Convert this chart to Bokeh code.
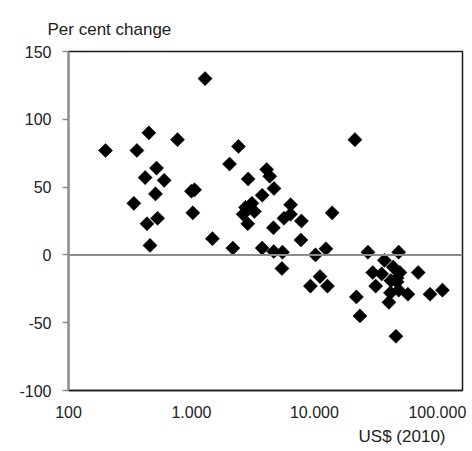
import math
from bokeh.plotting import figure
from bokeh.models import (FixedTicker, CustomJSTickFormatter, Span, Title,
                          ColumnDataSource, Range1d)
from bokeh.embed import file_html
from bokeh.resources import INLINE

# GDP per capita, US$ (2010)
gdp = [200, 360, 450, 770, 1290, 420, 520, 600, 510, 340, 435, 530, 460,
       1000, 1060, 1025, 1480, 2170, 2040, 2410, 2890, 2750, 3100, 2630, 3250, 2870,
       3760, 4090, 4330, 4690, 3760, 4640, 4670, 5500, 5440, 5650, 6400, 6390, 7840, 7770,
       10200, 9280, 11100, 12400, 12760, 13930, 21340, 21940, 23440, 27220, 29790, 31490,
       35240, 37070, 43730, 48450, 49550, 47010, 41880, 41500, 40350, 57540, 69820, 87100,
       109900, 45990, 47010, 48450]
# Per cent change
change = [77, 77, 90, 85, 130, 57, 64, 55, 45, 38, 23, 27, 7,
          47, 48, 31, 12, 5, 67, 80, 56, 35, 38, 30, 32, 23,
          44, 63, 58, 49, 5, 20, 2.5, 2, -10, 27, 37, 30, 25, 11,
          0, -23, -16, 4.5, -23, 31, 85, -31, -45, 2, -13, -23,
          -14, -4, -9, 2, -13, -20, -19, -28, -35, -29, -13, -29,
          -26, -60, -17, -26]

x_ticks = [100, 1000, 10000, 100000]
y_ticks = [-100, -50, 0, 50, 100, 150]

FONT = "Liberation Sans"
TXT = "#222222"

p = figure(width=470, height=451, x_axis_type="log",
           x_range=Range1d(100, 160000), y_range=Range1d(-100, 150),
           output_backend="svg", toolbar_location=None,
           min_border_left=68, min_border_right=8, min_border_top=51, min_border_bottom=61)

p.background_fill_color = "white"
p.border_fill_color = "white"
p.outline_line_color = "#1a1a1a"
p.outline_line_width = 1.5
p.xgrid.grid_line_color = None
p.ygrid.grid_line_color = None

# x axis
p.xaxis.ticker = FixedTicker(ticks=x_ticks, minor_ticks=[])
p.xaxis.formatter = CustomJSTickFormatter(code="""
return String(Math.round(tick)).replace(/\\B(?=(\\d{3})+(?!\\d))/g, '.');
""")
p.xaxis.major_tick_line_color = None
p.xaxis.minor_tick_line_color = None
p.xaxis.axis_line_color = "#1a1a1a"
p.xaxis.axis_line_width = 1.5
p.xaxis.major_label_standoff = 9
p.xaxis.major_label_text_font = FONT
p.xaxis.major_label_text_font_size = "16px"
p.xaxis.major_label_text_color = TXT

# y axis
p.yaxis.ticker = FixedTicker(ticks=y_ticks, minor_ticks=[])
p.yaxis.formatter = CustomJSTickFormatter(code="return String(tick);")
p.yaxis.axis_line_color = "#8c8c8c"
p.yaxis.axis_line_width = 2
p.yaxis.major_tick_line_color = "#8c8c8c"
p.yaxis.major_tick_line_width = 1.5
p.yaxis.major_tick_out = 6
p.yaxis.major_tick_in = 0
p.yaxis.minor_tick_line_color = None
p.yaxis.major_label_standoff = 11
p.yaxis.major_label_text_font = FONT
p.yaxis.major_label_text_font_size = "16px"
p.yaxis.major_label_text_color = TXT

# zero line
p.add_layout(Span(location=0, dimension="width", line_color="#8c8c8c", line_width=2))

src = ColumnDataSource(dict(x=gdp, y=change))
p.scatter("x", "y", source=src, marker="square", angle=math.pi / 4, size=10,
          fill_color="black", line_color="black", line_width=0.5)

# texts
p.add_layout(Title(text="Per  cent change", align="left", offset=-21, standoff=26,
                   text_font=FONT, text_font_size="17px", text_font_style="normal",
                   text_color=TXT), "above")
p.add_layout(Title(text="US$ (2010)", align="right", offset=17, standoff=9,
                   text_font=FONT, text_font_size="17px", text_font_style="normal",
                   text_color=TXT), "below")

open("out.html", "w").write(file_html(p, INLINE))
